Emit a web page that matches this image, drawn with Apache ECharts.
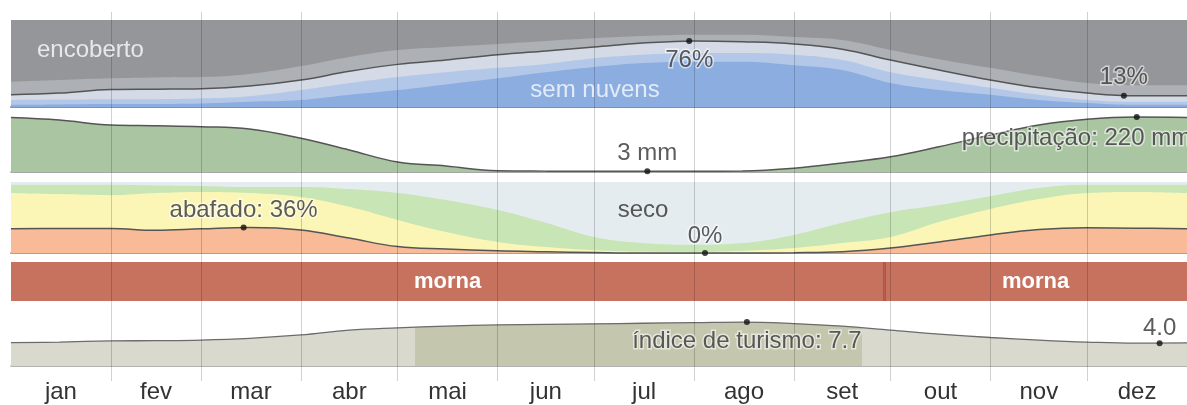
<!DOCTYPE html>
<html>
<head>
<meta charset="utf-8">
<script src="https://cdn.jsdelivr.net/npm/echarts@6/dist/echarts.min.js"></script>
<style>
  html, body { margin: 0; padding: 0; background: #fff; }
  #chart { width: 1187px; height: 405px; }
</style>
</head>
<body>
<div id="chart"></div>
<script>
// day of year for every sample
var days = [0, 15, 31, 45, 59, 74, 90, 105, 120, 135, 151, 166, 181, 196, 212, 227, 243, 258, 273, 288, 304, 319, 334, 349, 365];
var monthNames = ['jan', 'fev', 'mar', 'abr', 'mai', 'jun', 'jul', 'ago', 'set', 'out', 'nov', 'dez'];
var monthStarts = [31, 59, 90, 120, 151, 181, 212, 243, 273, 304, 334];
var monthMids = [15.5, 45, 74.5, 105, 135.5, 166, 196.5, 227.5, 258, 288.5, 319, 349.5];

// cloud cover, cumulative % counted from the bottom
var clearTop = [2.5, 3, 3.5, 3.5, 4, 6, 8, 14, 19.5, 26, 33, 40, 46, 50.5, 52, 52, 48, 42.5, 27.5, 19.5, 14, 8, 4.5, 2.5, 2.5];
var mostlyClearTop = [8, 8.5, 9, 9, 10, 12.5, 19.5, 27.5, 34.5, 40, 45, 49.5, 56, 60, 62, 62, 60, 54, 40, 31, 22, 14, 8, 6, 6];
var partlyCloudyTop = [14, 16, 20, 20.5, 21, 24, 31, 41, 49, 54, 60, 64.5, 69, 73.5, 76, 75, 72.5, 66.5, 54, 42.5, 31, 22, 16, 13, 13];
var mostlyCloudyTop = [29, 31, 33, 34, 34.5, 38, 47, 57.5, 65.5, 69, 72.5, 76, 79, 81.5, 83, 83, 80.5, 77, 65.5, 55, 45, 35.5, 27.5, 25, 25];

// monthly rainfall, mm
var precipMm = [218, 208, 188, 185, 181, 172, 135, 88, 40, 24, 5, 3.5, 3, 3, 3, 4, 15, 36, 61, 101, 148, 188, 211, 220, 218];

// humidity comfort, cumulative % counted from the bottom
var comfortableTop = [96, 96, 96, 95, 94.5, 93, 93, 90, 84.5, 74.5, 60.5, 42.5, 22.5, 14, 11.5, 14, 25.5, 42.5, 57.5, 67.5, 80, 91.5, 96, 96, 96];
var humidTop = [84.5, 83, 81.5, 84.5, 86, 84.5, 79, 65, 46.5, 29.5, 15.5, 8.5, 4, 2, 1.5, 3, 7, 14, 22.5, 43.5, 62, 76, 84.5, 86, 84.5];
var muggyTop = [34, 34.5, 34.5, 32, 34, 36, 32.5, 21, 9, 5.5, 3, 1.8, 0.7, 0, 0, 0, 0.4, 1.8, 7, 15.5, 25.5, 33, 35.5, 35, 34];

// temperature bands
var tempNames = ['morna', 'morna'];
var tempStarts = [0, 271];
var tempEnds = [271, 365];

// tourism score 0-10
var tourismScore = [4.1, 4.2, 4.4, 4.45, 4.55, 4.85, 5.45, 6.3, 6.7, 7.0, 7.2, 7.3, 7.4, 7.5, 7.6, 7.7, 7.45, 7.0, 6.3, 5.6, 5.0, 4.55, 4.2, 4.0, 4.05];
var bestPeriod = [125.5, 264];

// highlighted points: [day, value, text]
var cloudNotes = [[210.5, 76, '76%'], [345.4, 13, '13%']];
var precipNotes = [[197.5, 3, '3 mm'], [349.4, 220, 'precipitação: 220 mm']];
var humidNotes = [[72.2, 36, 'abafado: 36%'], [215.4, 0, '0%']];
var tourismNotes = [[228.4, 7.7, 'índice de turismo: 7.7'], [356.5, 4.0, '4.0']];

var FONT = '"Liberation Sans", Arial, sans-serif';

function pts(vals) {
    return days.map(function (d, i) { return [d, vals[i]]; });
}

function grid(top, height) {
    return { left: 11, width: 1183, top: top, height: height };
}

function xAx(i, lineColor, lineWidth) {
    var ax = { gridIndex: i, type: 'value', min: 0, max: 365, show: !!lineColor,
        splitLine: { show: false }, axisTick: { show: false }, axisLabel: { show: false } };
    if (lineColor) ax.axisLine = { show: true, lineStyle: { color: lineColor, width: lineWidth } };
    return ax;
}

function area(i, vals, color) {
    return { type: 'line', xAxisIndex: i, yAxisIndex: i, data: pts(vals), smooth: 0.4,
        symbol: 'none', lineStyle: { width: 0 }, areaStyle: { color: color, opacity: 1 }, z: 2 };
}

function curve(i, vals) {
    return { type: 'line', xAxisIndex: i, yAxisIndex: i, data: pts(vals), smooth: 0.4,
        symbol: 'none', lineStyle: { color: '#555', width: 1.5 }, z: 3 };
}

function noteSeries(i, notes, places) {
    return {
        type: 'scatter', xAxisIndex: i, yAxisIndex: i, z: 12, symbolSize: 6, clip: false,
        itemStyle: { color: '#111' },
        label: { color: '#333', fontSize: 24, fontFamily: FONT,
            textBorderColor: 'rgba(255,255,255,0.7)', textBorderWidth: 3 },
        data: notes.map(function (n, k) {
            return { value: [n[0], n[1]], label: Object.assign({ show: true, formatter: n[2] }, places[k]) };
        })
    };
}

var grids = [grid(20, 87), grid(115, 57), grid(182, 71), grid(262, 39), grid(309, 57), grid(12, 369)];
grids[0].show = true; grids[0].backgroundColor = '#949699'; grids[0].borderWidth = 0;
grids[2].show = true; grids[2].backgroundColor = '#e5ecf0'; grids[2].borderWidth = 0;

var xAxes = [
    xAx(0, '#7393c6', 2),
    xAx(1, '#8a8a8a', 1.5),
    xAx(2, '#d98f7e', 2),
    xAx(3),
    xAx(4, '#9a9a9a', 1.5),
    xAx(5)
];
xAxes[4].axisLabel = {
    show: true, customValues: monthMids, margin: 14, color: '#333', fontSize: 24, fontFamily: FONT,
    formatter: function (v) { return monthNames[monthMids.indexOf(v)]; }
};

var yAxes = [
    { gridIndex: 0, type: 'value', min: 0, max: 100, show: false },
    { gridIndex: 1, type: 'value', min: 0, max: 228, show: false },
    { gridIndex: 2, type: 'value', min: 0, max: 100, show: false },
    { gridIndex: 3, type: 'category', data: ['temp'], show: false },
    { gridIndex: 4, type: 'value', min: 0, max: 10, show: false },
    { gridIndex: 5, type: 'value', min: 0, max: 1, show: false }
];

var series = [
    // clouds
    area(0, mostlyCloudyTop, '#adb0b5'),
    area(0, partlyCloudyTop, '#d4dbe7'),
    area(0, mostlyClearTop, '#b3c8e8'),
    area(0, clearTop, '#8cade0'),
    curve(0, partlyCloudyTop),
    // rain
    Object.assign(curve(1, precipMm), { areaStyle: { color: '#aac5a1', opacity: 1 } }),
    // humidity
    area(2, comfortableTop, '#c7e5b5'),
    area(2, humidTop, '#fbf6b6'),
    area(2, muggyTop, '#f9ba97'),
    Object.assign(curve(2, muggyTop), { clip: false })
];

// temperature bands as stacked horizontal bars
tempNames.forEach(function (name, k) {
    var s = {
        type: 'bar', xAxisIndex: 3, yAxisIndex: 3, stack: 'temp', barWidth: '100%',
        data: [tempEnds[k] - tempStarts[k]],
        itemStyle: { color: '#c6725f' },
        label: { show: true, position: 'inside', formatter: name, color: '#fff',
            fontWeight: 'bold', fontSize: 22, fontFamily: FONT }
    };
    if (k > 0) {
        s.markLine = { silent: true, symbol: ['none', 'none'], label: { show: false },
            lineStyle: { color: 'rgba(150,50,45,0.45)', width: 3, type: 'solid' },
            data: [{ xAxis: tempStarts[k] }] };
    }
    series.push(s);
});

var tourismIndex = series.length;
series.push({
    type: 'line', xAxisIndex: 4, yAxisIndex: 4, data: pts(tourismScore), smooth: 0.4,
    symbol: 'none', lineStyle: { color: '#6b6b6b', width: 1.3 }, areaStyle: { opacity: 1 }, z: 2
});

// month dividers over everything
series.push({
    type: 'line', xAxisIndex: 5, yAxisIndex: 5, data: [[0, 0]], symbol: 'none',
    lineStyle: { opacity: 0 }, z: 10,
    markLine: { silent: true, symbol: ['none', 'none'], label: { show: false },
        lineStyle: { color: 'rgba(0,0,0,0.18)', width: 1, type: 'solid' },
        data: monthStarts.map(function (d) { return { xAxis: d }; }) }
});

series.push(noteSeries(0, cloudNotes, [{ position: 'bottom', distance: 4 }, { position: 'top', distance: 3 }]));
series.push(noteSeries(1, precipNotes, [{ position: 'top', distance: 3 }, { position: [-172, 12], align: 'left', verticalAlign: 'top' }]));
series.push(noteSeries(2, humidNotes, [{ position: 'top', distance: 2 }, { position: 'top', distance: 2 }]));
series.push(noteSeries(4, tourismNotes, [{ position: 'bottom', distance: 4 }, { position: 'top', distance: 0 }]));

var option = {
    animation: false,
    textStyle: { fontFamily: FONT },
    grid: grids,
    xAxis: xAxes,
    yAxis: yAxes,
    visualMap: {
        type: 'piecewise', show: false, dimension: 0, seriesIndex: tourismIndex,
        pieces: [
            { lt: bestPeriod[0], color: '#d9dacd' },
            { gte: bestPeriod[0], lte: bestPeriod[1], color: '#c4c6ad' },
            { gt: bestPeriod[1], color: '#d9dacd' }
        ]
    },
    graphic: [
        { type: 'text', x: 37, y: 50, z: 20, style: { text: 'encoberto', fill: '#e8e8e8', font: '24px ' + FONT, verticalAlign: 'middle', textVerticalAlign: 'middle' } },
        { type: 'text', x: 595, y: 90, z: 20, style: { text: 'sem nuvens', fill: '#e3ebf8', font: '24px ' + FONT, align: 'center', textAlign: 'center', verticalAlign: 'middle', textVerticalAlign: 'middle' } },
        { type: 'text', x: 643, y: 210, z: 20, style: { text: 'seco', fill: '#555', font: '24px ' + FONT, align: 'center', textAlign: 'center', verticalAlign: 'middle', textVerticalAlign: 'middle' } }
    ],
    series: series
};

var chart = echarts.init(document.getElementById('chart'));
chart.setOption(option);
</script>
</body>
</html>
